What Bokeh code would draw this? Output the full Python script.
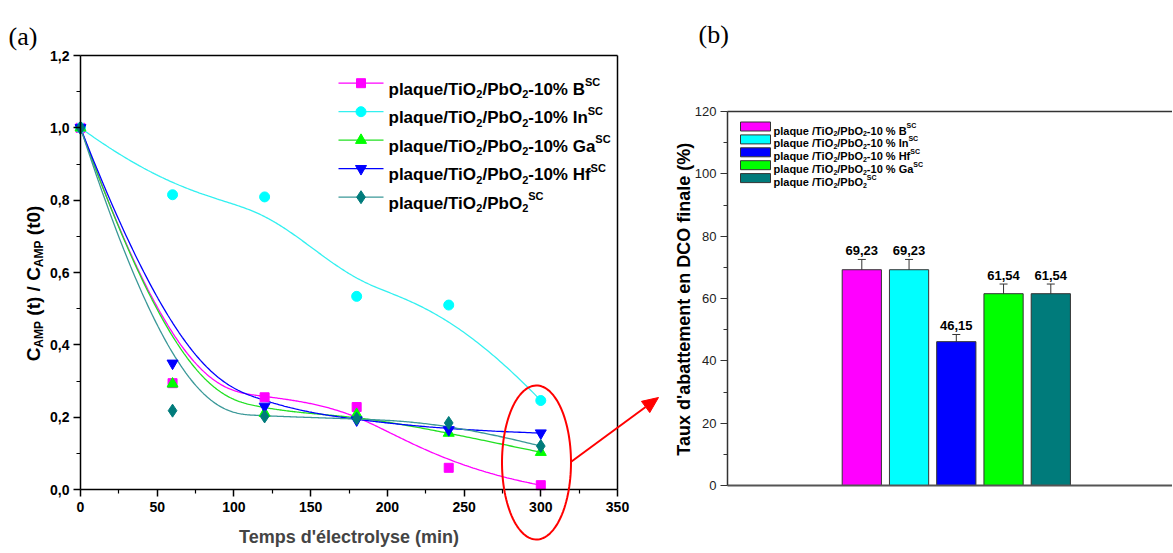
import numpy as np
from bokeh.plotting import figure
from bokeh.models import (Range1d, FixedTicker, CustomJSTickFormatter, Label, LinearAxis,
                          PolyAnnotation, ColumnDataSource, Whisker, TeeHead, BoxAnnotation)
from bokeh.core.properties import value
from bokeh.layouts import row
from bokeh.embed import file_html
from bokeh.resources import INLINE

# ---------------- data : panel (a) ----------------
time_min = [0, 60, 120, 180, 240, 300]
c_B = [1.0, 0.294, 0.255, 0.228, 0.060, 0.012]
c_In = [1.0, 0.815, 0.809, 0.534, 0.510, 0.246]
c_Ga = [1.0, 0.292, 0.211, 0.208, 0.156, 0.103]
c_Hf = [1.0, 0.349, 0.230, 0.192, 0.165, 0.156]
c_ref = [1.0, 0.218, 0.202, 0.196, 0.184, 0.120]
x_ticks = [0, 50, 100, 150, 200, 250, 300, 350]
y_ticks = [0.0, 0.2, 0.4, 0.6, 0.8, 1.0, 1.2]

# ---------------- data : panel (b) ----------------
dco_removal = [69.23, 69.23, 46.15, 61.54, 61.54]
dco_err = [3.3, 3.3, 2.3, 3.1, 3.1]
yb_ticks = [0, 20, 40, 60, 80, 100, 120]

FONT = "Liberation Sans"
SERIF = "Liberation Serif"

# Arial / Liberation Sans Bold advance widths (1/1000 em)
W = {' ': 278, '(': 333, ')': 333, '/': 278, '-': 333, '%': 889, ',': 278, "'": 238,
     'A': 722, 'B': 722, 'C': 722, 'D': 722, 'G': 778, 'H': 722, 'I': 278, 'M': 833, 'O': 778,
     'P': 667, 'S': 667, 'T': 611, 'a': 556, 'b': 611, 'd': 611, 'e': 556, 'f': 333, 'i': 278,
     'l': 278, 'm': 889, 'n': 611, 'p': 611, 'q': 611, 't': 333, 'u': 611, 'x': 556}


def tw(s, size):
    return sum(W.get(ch, 556) for ch in s) * size / 1000.0


def rich(fig, fx, fy, x, y, parts, size, small, angle=0.0, color="black", style="bold"):
    """Draw text with sub/superscripts; x, y = page pixel of baseline start."""
    pos = 0.0
    for text, kind in parts:
        fs = size if kind == "n" else small
        shift = {"n": 0.0, "sub": 0.30 * size, "sup": -0.42 * size}[kind]
        lead = len(text) - len(text.lstrip())
        off = tw(" " * lead, fs)
        if angle == 0:
            px, py = x + pos + off, y + shift
        else:
            px, py = x + shift, y - pos - off
        fig.add_layout(Label(x=fx(px), y=fy(py), text=text.strip(), text_font=FONT,
                             text_font_size=f"{fs}px", text_font_style=style,
                             text_baseline="alphabetic", text_align="left", angle=angle,
                             text_color=color))
        pos += tw(text, fs)


def bspline_curve(xs, ys, n=300, k=3):
    xs = np.asarray(xs, float)
    ys = np.asarray(ys, float)
    m = len(xs)
    knots = np.concatenate([np.zeros(k), np.arange(m - k + 1, dtype=float), np.full(k, float(m - k))])
    t = np.linspace(0, m - k, n)
    t[-1] -= 1e-9

    def N(i, d):
        if d == 0:
            return ((knots[i] <= t) & (t < knots[i + 1])).astype(float)
        out = np.zeros_like(t)
        d1 = knots[i + d] - knots[i]
        if d1 > 0:
            out += (t - knots[i]) / d1 * N(i, d - 1)
        d2 = knots[i + d + 1] - knots[i + 1]
        if d2 > 0:
            out += (knots[i + d + 1] - t) / d2 * N(i + 1, d - 1)
        return out

    B = np.array([N(i, k) for i in range(m)])
    return B.T @ xs, B.T @ ys


def bare_axis(loc, bounds, color="black", width=1.5):
    return LinearAxis(fixed_location=loc, bounds=bounds, ticker=FixedTicker(ticks=[]),
                      axis_line_color=color, axis_line_width=width,
                      major_tick_line_color=None, minor_tick_line_color=None,
                      major_label_text_font_size="0px")


TOTAL_W, TOTAL_H = 1172, 552
SPLIT = 660

# ====================== panel (a) ======================
FL, FR, FT, FB = 80, 617, 55, 489   # data box edges, page px


def X1(px):
    return (px - FL) / (FR - FL) * (x_ticks[-1] - x_ticks[0]) + x_ticks[0]


def Y1(py):
    return (FB - py) / (FB - FT) * (y_ticks[-1] - y_ticks[0]) + y_ticks[0]


p1 = figure(width=SPLIT, height=TOTAL_H, x_range=Range1d(X1(0), X1(SPLIT)),
            y_range=Range1d(Y1(TOTAL_H), Y1(0)), output_backend="svg",
            toolbar_location=None, min_border=0)
p1.xgrid.visible = False
p1.ygrid.visible = False
p1.outline_line_color = None
p1.background_fill_color = "white"
p1.border_fill_color = "white"

xb = p1.below[0]
yl = p1.left[0]
xb.fixed_location = y_ticks[0]
yl.fixed_location = x_ticks[0]
xb.bounds = (x_ticks[0], x_ticks[-1])
yl.bounds = (y_ticks[0], y_ticks[-1])
xb.ticker = FixedTicker(ticks=x_ticks, minor_ticks=[25, 75, 125, 175, 225, 275, 325])
yl.ticker = FixedTicker(ticks=y_ticks, minor_ticks=[0.1, 0.3, 0.5, 0.7, 0.9, 1.1])
yl.formatter = CustomJSTickFormatter(code="return tick.toFixed(1).replace('.', ',');")
for ax in (xb, yl):
    ax.axis_line_width = 1.5
    ax.axis_line_color = "black"
    ax.major_tick_out = 7
    ax.major_tick_in = 0
    ax.minor_tick_out = 4
    ax.minor_tick_in = 0
    ax.major_tick_line_width = 1.5
    ax.minor_tick_line_width = 1.2
    ax.major_label_text_font = FONT
    ax.major_label_text_font_style = "bold"
    ax.major_label_text_font_size = "14px"
    ax.major_label_text_color = "black"
xb.major_label_standoff = 5
yl.major_label_standoff = 4
xb.axis_label = "Temps d'électrolyse (min)"
xb.axis_label_text_font = FONT
xb.axis_label_text_font_style = "bold"
xb.axis_label_text_font_size = "18px"
xb.axis_label_standoff = 12
p1.add_layout(bare_axis(y_ticks[-1], (x_ticks[0], x_ticks[-1])), "above")
p1.add_layout(bare_axis(x_ticks[-1], (y_ticks[0], y_ticks[-1])), "right")

series = [
    (c_B, "#FF00FF", "#FF00FF", "square", 9, "-10% B"),
    (c_In, "#00FFFF", "#33F0F0", "circle", 10, "-10% In"),
    (c_Ga, "#00FF00", "#22E022", "triangle", 11, "-10% Ga"),
    (c_Hf, "#0000FF", "#0000FF", "inverted_triangle", 11, "-10% Hf"),
    (c_ref, "#007B7B", "#3A9898", "diamond", 13, None),
]
for ys, mcol, lcol, marker, size, _ in series:
    cx, cy = bspline_curve(time_min, ys)
    p1.line(cx, cy, line_color=lcol, line_width=1.3)
for ys, mcol, lcol, marker, size, _ in series:
    p1.scatter(time_min, ys, marker=marker, size=size, fill_color=mcol, line_color=mcol)

# legend (a)
leg_x0, leg_x1, leg_tx, leg_y0, leg_dy = 338, 383, 388, 82.7, 28.5
for i, (ys, mcol, lcol, marker, size, tag) in enumerate(series):
    yy = leg_y0 + i * leg_dy
    p1.line([X1(leg_x0), X1(leg_x1)], [Y1(yy), Y1(yy)], line_color=lcol, line_width=1.3)
    p1.scatter([X1((leg_x0 + leg_x1) / 2)], [Y1(yy)], marker=marker, size=size,
               fill_color=mcol, line_color=mcol)
    parts = [("plaque/TiO", "n"), ("2", "sub"), ("/PbO", "n"), ("2", "sub")]
    if tag:
        parts.append((tag, "n"))
    parts.append(("SC", "sup"))
    rich(p1, X1, Y1, leg_tx, yy + 6, parts, 17, 11)

# y axis title (a)
ypieces = [("C", "n"), ("AMP", "sub"), (" (t) / C", "n"), ("AMP", "sub"), (" (t0)", "n")]
ylen = sum(tw(t, 19 if k == "n" else 12) for t, k in ypieces)
rich(p1, X1, Y1, 33, 283 + ylen / 2, ypieces, 19, 12, angle=np.pi / 2)

# panel tag
p1.add_layout(Label(x=X1(8), y=Y1(36), text="(a)", text_font=SERIF, text_font_size="26px",
                    text_baseline="alphabetic", text_align="left", text_color="black"))

# highlight ellipse + arrow (page pixels converted to data space)
ecx, ecy, ea, eb = 536, 462, 34.5, 77
th = np.linspace(0, 2 * np.pi, 120)
p1.add_layout(PolyAnnotation(xs=[X1(ecx + ea * np.cos(a)) for a in th],
                             ys=[Y1(ecy + eb * np.sin(a)) for a in th],
                             fill_color=None, fill_alpha=0, line_color="red",
                             line_alpha=1, line_width=2))
ax0, ay0, ax1, ay1 = 571, 461, 658, 397
ang = np.arctan2(ay1 - ay0, ax1 - ax0)
hl, hw = 16, 7
bx, by = ax1 - hl * np.cos(ang), ay1 - hl * np.sin(ang)
p1.add_layout(PolyAnnotation(xs=[X1(ax0), X1(bx)], ys=[Y1(ay0), Y1(by)],
                             fill_color=None, fill_alpha=0, line_color="red",
                             line_alpha=1, line_width=2))
p1.add_layout(PolyAnnotation(
    xs=[X1(ax1), X1(bx - hw * np.sin(ang)), X1(bx + hw * np.sin(ang))],
    ys=[Y1(ay1), Y1(by + hw * np.cos(ang)), Y1(by - hw * np.cos(ang))],
    fill_color="red", fill_alpha=1, line_color="red", line_alpha=1, line_width=1))

# ====================== panel (b) ======================
RL, RR = 727, TOTAL_W
RT, RB = 111, 485                 # pixel rows of 120 % and 0 %
BAR0, PITCH = 861.3, 47.25


def X2(px):
    return (px - BAR0) / PITCH + 0


def Y2(py):
    return (RB - py) / (RB - RT) * (yb_ticks[-1] - yb_ticks[0]) + yb_ticks[0]


p2 = figure(width=TOTAL_W - SPLIT, height=TOTAL_H, x_range=Range1d(X2(SPLIT), X2(TOTAL_W)),
            y_range=Range1d(Y2(TOTAL_H), Y2(0)), output_backend="svg",
            toolbar_location=None, min_border=0)
p2.xgrid.visible = False
p2.ygrid.visible = False
p2.outline_line_color = None
p2.background_fill_color = "white"
p2.border_fill_color = "white"

bar_colors = ["#FF00FF", "#00FFFF", "#0000FF", "#00FF00", "#007B7B"]
idx = list(range(len(dco_removal)))
src = ColumnDataSource(dict(
    x=idx, top=dco_removal, color=bar_colors,
    upper=[v + e for v, e in zip(dco_removal, dco_err)],
    lower=[v - e for v, e in zip(dco_removal, dco_err)],
    label=[f"{v:.2f}".replace(".", ",") for v in dco_removal]))
p2.vbar(x="x", top="top", bottom=yb_ticks[0], width=0.83, fill_color="color",
        line_color="#333333", line_width=1, source=src)
p2.add_layout(Whisker(source=src, base="x", upper="upper", lower="lower",
                      line_color="#333333", line_width=1,
                      upper_head=TeeHead(size=8, line_color="#333333", line_width=1),
                      lower_head=TeeHead(size=8, line_color="#333333", line_width=1)))
p2.text(x="x", y="upper", text="label", source=src, text_align="center",
        text_baseline="bottom", y_offset=-4, text_font=value(FONT),
        text_font_style="bold", text_font_size=value("13px"), text_color="black")

ya = p2.left[0]
ya.fixed_location = X2(RL)
ya.ticker = FixedTicker(ticks=yb_ticks, minor_ticks=[10, 30, 50, 70, 90, 110])
ya.bounds = (yb_ticks[0], yb_ticks[-1])
ya.axis_line_width = 1.5
ya.axis_line_color = "#333333"
ya.major_tick_out = 7
ya.major_tick_in = 0
ya.minor_tick_out = 4
ya.minor_tick_in = 0
ya.major_tick_line_color = "#333333"
ya.minor_tick_line_color = "#333333"
ya.major_label_text_font = FONT
ya.major_label_text_font_size = "13px"
ya.major_label_text_color = "#222222"
ya.major_label_standoff = 4

xa = p2.below[0]
xa.fixed_location = yb_ticks[0]
xa.bounds = (X2(RL), X2(RR))
xa.ticker = FixedTicker(ticks=[])
xa.axis_line_color = "#555555"
xa.axis_line_width = 2
xa.major_tick_line_color = None
xa.minor_tick_line_color = None
xa.major_label_text_font_size = "0px"
p2.add_layout(bare_axis(yb_ticks[-1], (X2(RL), X2(RR)), color="#333333"), "above")

# y axis title (b)
ytitle = "Taux d'abattement en DCO finale (%)"
rich(p2, X2, Y2, 683, (RT + RB) / 2 + tw(ytitle, 18) / 2, [(ytitle, "n")], 18, 12,
     angle=np.pi / 2)

# legend (b)
leg_names = ["-10 % B", "-10 % In", "-10 % Hf", "-10 % Ga", None]
for i, (col, tag) in enumerate(zip(bar_colors, leg_names)):
    cy = 126 + i * 12.9
    p2.add_layout(BoxAnnotation(left=X2(740), right=X2(770), top=Y2(cy - 4.5), bottom=Y2(cy + 4.5),
                                fill_color=col, fill_alpha=1, line_color="#333333",
                                line_alpha=1, line_width=1))
    parts = [("plaque /TiO", "n"), ("2", "sub"), ("/PbO", "n"), ("2", "sub")]
    if tag:
        parts.append((tag, "n"))
    parts.append(("SC", "sup"))
    rich(p2, X2, Y2, 773, cy + 4, parts, 11, 7)

p2.add_layout(Label(x=X2(698), y=Y2(34), text="(b)", text_font=SERIF, text_font_size="26px",
                    text_baseline="alphabetic", text_align="left", text_color="black"))

layout = row(p1, p2)
open("out.html", "w").write(file_html(layout, INLINE))
